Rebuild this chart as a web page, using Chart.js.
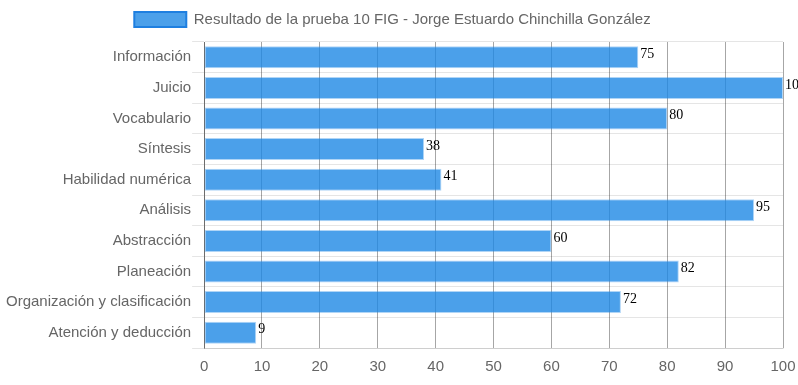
<!DOCTYPE html>
<html>
<head>
<meta charset="utf-8">
<script src="https://cdn.jsdelivr.net/npm/chart.js@4/dist/chart.umd.min.js"></script>
<style>
	body { margin: 0; background: #fff; }
	#grafica { display: block; }
</style>
</head>
<body>
<canvas id="grafica" width="798" height="385"></canvas>
<script>
const etiquetas = ['Información', 'Juicio', 'Vocabulario', 'Síntesis', 'Habilidad numérica', 'Análisis', 'Abstracción', 'Planeación', 'Organización y clasificación', 'Atención y deducción'];
const puntajes = [75, 100, 80, 38, 41, 95, 60, 82, 72, 9];
const titulo = 'Resultado de la prueba 10 FIG - Jorge Estuardo Chinchilla González';

// numeros al final de cada barra
const valoresBarra = {
	id: 'valoresBarra',
	afterDatasetsDraw(chart) {
		const ctx = chart.ctx;
		const meta = chart.getDatasetMeta(0);
		ctx.save();
		ctx.font = '14px "Liberation Serif", serif';
		ctx.fillStyle = '#000';
		ctx.textAlign = 'left';
		ctx.textBaseline = 'middle';
		meta.data.forEach((bar, i) => {
			ctx.fillText(puntajes[i], bar.x + 2, bar.y - 3);
		});
		ctx.restore();
	}
};

// espacio debajo de la leyenda y leyenda algo corrida a la izquierda
const ajusteLeyenda = {
	id: 'ajusteLeyenda',
	beforeInit(chart) {
		const fitOriginal = chart.legend.fit;
		chart.legend.fit = function () {
			fitOriginal.bind(chart.legend)();
			this.height += 5;
		};
	},
	beforeDraw(chart) {
		chart.legend.left -= 9;
		chart.legend.right -= 9;
	}
};

const ctx = document.querySelector('#grafica').getContext('2d');
const grafica = new Chart(ctx, {
	type: 'bar',
	data: {
		labels: etiquetas,
		datasets: [{
			label: titulo,
			data: puntajes,
			backgroundColor: 'rgba(30,136,229,0.8)',
			borderColor: 'rgba(30,136,229,0.35)',
			borderWidth: 1,
			borderSkipped: false
		}]
	},
	options: {
		responsive: false,
		animation: false,
		indexAxis: 'y',
		layout: { padding: { right: 0, left: 5, top: 0, bottom: 0 } },
		scales: {
			x: {
				beginAtZero: true,
				min: 0,
				max: 100,
				ticks: { stepSize: 10, color: '#666', font: { size: 15, lineHeight: 1, family: '"Liberation Sans", Arial, sans-serif' }, padding: 11 },
				grid: { color: 'rgba(0,0,0,0.35)', drawTicks: false },
				border: { color: 'rgba(0,0,0,0.1)' },
				afterFit(scale) {
					scale.paddingRight = 15;
				}
			},
			y: {
				ticks: { color: '#666', font: { size: 15, family: '"Liberation Sans", Arial, sans-serif' }, padding: 1 },
				grid: { color: 'rgba(0,0,0,0.1)', tickLength: 12 },
				border: { color: 'rgba(0,0,0,0.35)' }
			}
		},
		plugins: {
			legend: {
				display: true,
				labels: {
					color: '#666',
					boxWidth: 52,
					boxHeight: 15,
					padding: 12,
					font: { size: 15, family: '"Liberation Sans", Arial, sans-serif' },
					generateLabels(chart) {
						const items = Chart.defaults.plugins.legend.labels.generateLabels(chart);
						items.forEach(item => {
							item.strokeStyle = '#1e7fe0';
							item.lineWidth = 2;
						});
						return items;
					}
				}
			},
			tooltip: { enabled: false }
		}
	},
	plugins: [ajusteLeyenda, valoresBarra]
});
</script>
</body>
</html>
